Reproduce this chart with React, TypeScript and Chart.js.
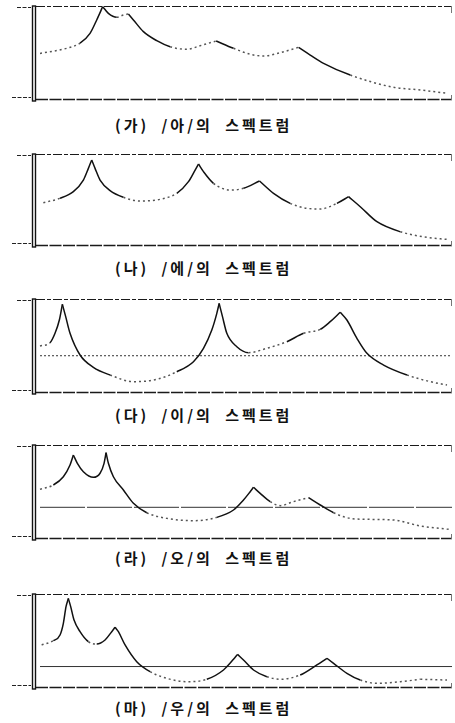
import React, { useEffect, useRef } from "react";
import { Chart, registerables } from "chart.js";

Chart.register(...registerables);

// Frequency axis (Hz) and relative level (0–100)
const freqA = [60, 380, 540, 660, 740, 812, 880, 980, 1060, 1120, 1180, 1300, 1460, 1620, 1820, 1980, 2172, 2380, 2580, 2740, 2940, 3160, 3300, 3460, 3780, 4300, 4620, 4940];
const levelA = [49, 54.5, 60, 70.6, 85, 99.3, 92, 87.8, 90.3, 91.4, 85, 72.4, 62.7, 56.2, 53.4, 57.3, 62.4, 54.5, 48.1, 46.2, 49.8, 55.6, 47.3, 38.4, 25.8, 12.6, 9.7, 6.1];

const freqE = [100, 300, 460, 580, 640, 680, 720, 780, 900, 1060, 1260, 1500, 1700, 1840, 1920, 1960, 2020, 2140, 2340, 2500, 2692, 2860, 3060, 3260, 3420, 3620, 3760, 3900, 4100, 4380, 4700, 4940];
const levelE = [46.5, 51.3, 58.6, 71.4, 84.2, 93.4, 84.2, 71.4, 59.7, 52.4, 48.4, 50.2, 56.8, 69.6, 82.4, 89, 80.6, 67.8, 60.4, 62.3, 70.3, 56.8, 45.8, 40.3, 39.6, 45.8, 53.1, 42.1, 25.6, 14.6, 8.4, 6.2];

const freqI = [60, 180, 240, 292, 328, 368, 420, 540, 700, 900, 1180, 1460, 1700, 1900, 2020, 2120, 2180, 2208, 2248, 2300, 2420, 2560, 2780, 3020, 3220, 3420, 3540, 3660, 3740, 3860, 3980, 4180, 4460, 4740, 4940];
const levelI = [49.5, 53, 63.1, 77.4, 94.3, 81, 63.1, 39.8, 26.5, 18.3, 11.1, 13.6, 21.8, 32.6, 47, 66.7, 84.6, 95.3, 81, 63.1, 48.7, 42.3, 47, 54.1, 63.1, 67.4, 75.6, 85.7, 77.4, 57.7, 41.6, 29, 18.3, 11.1, 7.5];
const refI = 39;

const freqO = [60, 220, 340, 420, 460, 508, 580, 700, 780, 828, 852, 880, 940, 1060, 1180, 1340, 1580, 1900, 2180, 2380, 2500, 2580, 2620, 2700, 2820, 2940, 3100, 3280, 3420, 3580, 3780, 3980, 4300, 4620, 4960];
const levelO = [52.3, 57, 65.9, 78.5, 89.2, 80.3, 71.3, 65.2, 69.6, 80.3, 91.8, 80.3, 65.9, 51.6, 37.3, 27.2, 21.1, 18.6, 22.2, 30.1, 40.9, 49.8, 54.5, 48, 39.1, 34.8, 39.1, 43.4, 35.5, 27.2, 21.1, 20.1, 19.4, 12.9, 9.3];
const refO = 33;

const freqU = [80, 220, 300, 340, 372, 400, 428, 468, 540, 640, 740, 840, 920, 960, 1000, 1080, 1220, 1380, 1580, 1820, 2060, 2260, 2380, 2428, 2500, 2620, 2780, 2940, 3180, 3380, 3500, 3580, 3740, 3900, 4100, 4380, 4620, 4940];
const levelU = [45.2, 49.8, 55.9, 68.5, 86.4, 95.3, 86.4, 72, 59.5, 48.7, 46.2, 50.5, 59.5, 64.2, 59.5, 45.2, 27.2, 16.5, 9.3, 5.7, 8.3, 18.3, 29.8, 35.1, 29, 18.3, 11.1, 8.3, 12.9, 23.7, 30.9, 25.5, 14.7, 7.5, 4, 5.7, 8.3, 7.5];
const refU = 22;

const refStart = 60;
const freqMax = 5000;

const captions = [
  "(가) /아/의 스펙트럼",
  "(나) /에/의 스펙트럼",
  "(다) /이/의 스펙트럼",
  "(라) /오/의 스펙트럼",
  "(마) /우/의 스펙트럼",
];

type PanelDef = {
  freq: number[];
  level: number[];
  ref?: number;
  refDash?: number[];
  boxTop: number;
  boxHeight: number;
  captionY: number;
  caption: string;
};

const panels: PanelDef[] = [
  { freq: freqA, level: levelA, boxTop: 6, boxHeight: 93, captionY: 125, caption: captions[0] },
  { freq: freqE, level: levelE, boxTop: 154, boxHeight: 91, captionY: 268, caption: captions[1] },
  { freq: freqI, level: levelI, ref: refI, refDash: [2, 2], boxTop: 299, boxHeight: 93, captionY: 415, caption: captions[2] },
  { freq: freqO, level: levelO, ref: refO, refDash: [45, 2], boxTop: 445, boxHeight: 93, captionY: 558, caption: captions[3] },
  { freq: freqU, level: levelU, ref: refU, refDash: [], boxTop: 594, boxHeight: 93, captionY: 708, caption: captions[4] },
];

const PAD = 6;
const WIDTH = 455;

const framePlugin = {
  id: "frame",
  afterDraw(chart: any) {
    const { ctx, chartArea } = chart;
    const { left, right, top, bottom } = chartArea;
    ctx.save();
    ctx.strokeStyle = "#1a1a1a";
    ctx.lineWidth = 1.2;
    ctx.setLineDash([9, 2, 4, 2]);
    ctx.beginPath();
    ctx.moveTo(left + 1, top + 0.5);
    ctx.lineTo(right, top + 0.5);
    ctx.stroke();
    ctx.lineWidth = 1.4;
    ctx.setLineDash([12, 1.5]);
    ctx.beginPath();
    ctx.moveTo(left + 1, bottom + 0.5);
    ctx.lineTo(right, bottom + 0.5);
    ctx.stroke();
    ctx.setLineDash([]);
    ctx.lineWidth = 1;
    ctx.strokeStyle = "#777";
    ctx.beginPath();
    ctx.moveTo(right - 0.5, top);
    ctx.lineTo(right - 0.5, top + 7);
    ctx.moveTo(right - 0.5, bottom - 4);
    ctx.lineTo(right - 0.5, bottom + 1);
    ctx.stroke();
    ctx.strokeStyle = "#111";
    ctx.lineWidth = 1.4;
    ctx.strokeRect(left - 2.5, top, 3, bottom - top + 2);
    ctx.lineWidth = 1;
    ctx.strokeStyle = "#222";
    ctx.setLineDash([4, 1.5]);
    ctx.beginPath();
    ctx.moveTo(left - 18, top + 1.5);
    ctx.lineTo(left - 4, top + 1.5);
    ctx.moveTo(left - 23, bottom - 1.5);
    ctx.lineTo(left - 4, bottom - 1.5);
    ctx.stroke();
    ctx.restore();
  },
};

function isFlat(c: any) {
  const dx = c.p1.x - c.p0.x;
  const dy = c.p1.y - c.p0.y;
  if (dx === 0) return false;
  return Math.abs(dy / dx) < 0.42;
}

// split the curve at its local maxima so the resonance peaks stay sharp
function spans(freq: number[], level: number[]) {
  const out: { x: number; y: number }[][] = [];
  let cur: { x: number; y: number }[] = [];
  for (let i = 0; i < freq.length; i++) {
    cur.push({ x: freq[i], y: level[i] });
    const isPeak = i > 0 && i < freq.length - 1 && level[i] > level[i - 1] && level[i] > level[i + 1];
    if (isPeak) {
      out.push(cur);
      cur = [{ x: freq[i], y: level[i] }];
    }
  }
  if (cur.length > 1) out.push(cur);
  return out;
}

function Panel({ def }: { def: PanelDef }) {
  const ref = useRef<HTMLCanvasElement>(null);
  useEffect(() => {
    if (!ref.current) return;
    const datasets: any[] = spans(def.freq, def.level).map((pts) => ({
      data: pts,
      borderColor: "#111",
      borderWidth: 1.5,
      pointRadius: 0,
      cubicInterpolationMode: "monotone",
      segment: {
        borderColor: (c: any) => (isFlat(c) ? "#555" : "#111"),
        borderDash: (c: any) => (isFlat(c) ? [2, 3] : []),
      },
    }));
    if (def.ref !== undefined) {
      datasets.push({
        data: [
          { x: refStart, y: def.ref },
          { x: freqMax, y: def.ref },
        ],
        borderColor: "#333",
        borderWidth: 1,
        borderDash: def.refDash,
        pointRadius: 0,
      });
    }
    const chart = new Chart(ref.current, {
      type: "line",
      data: { datasets },
      options: {
        responsive: false,
        animation: false,
        layout: { padding: { left: 35, right: WIDTH - 452, top: PAD, bottom: PAD } },
        plugins: { legend: { display: false }, tooltip: { enabled: false }, title: { display: false } },
        scales: {
          x: { type: "linear", min: 0, max: freqMax, display: false },
          y: { type: "linear", min: 0, max: 100, display: false },
        },
      },
      plugins: [framePlugin],
    });
    return () => chart.destroy();
  }, [def]);
  return (
    <>
      <canvas
        ref={ref}
        width={WIDTH}
        height={def.boxHeight + PAD * 2}
        style={{ position: "absolute", left: 0, top: def.boxTop - PAD, display: "block" }}
      />
      <div
        style={{
          position: "absolute",
          left: 115,
          top: def.captionY - 10,
          lineHeight: "20px",
          height: 20,
          whiteSpace: "nowrap",
          fontFamily: "'Noto Sans CJK KR', 'Noto Sans', sans-serif",
          fontSize: 15,
          fontWeight: 700,
          letterSpacing: "3px",
          wordSpacing: "6px",
          color: "#111",
        }}
      >
        {def.caption}
      </div>
    </>
  );
}

export default function App() {
  return (
    <div style={{ position: "absolute", left: 0, top: 0, width: WIDTH, height: 723, background: "#fff" }}>
      {panels.map((p, i) => (
        <Panel key={i} def={p} />
      ))}
    </div>
  );
}
